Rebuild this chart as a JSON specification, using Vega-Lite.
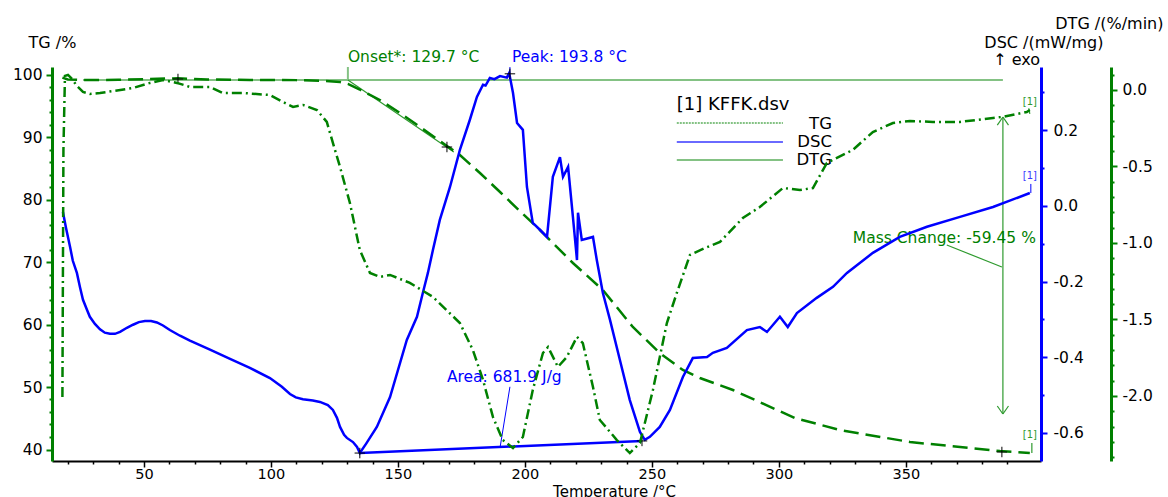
{
  "$schema": "https://vega.github.io/schema/vega-lite/v6.json",
  "width": 989,
  "height": 394,
  "autosize": "none",
  "padding": {"left": 52, "top": 67, "right": 127, "bottom": 36},
  "background": "white",
  "config": {
    "view": {"stroke": null},
    "font": "DejaVu Sans",
    "text": {"font": "DejaVu Sans"},
    "axis": {"grid": false, "labelFont": "DejaVu Sans", "titleFont": "DejaVu Sans", "labelFontSize": 15.5, "titleFontSize": 16, "titleFontWeight": "normal", "labelColor": "#000", "titleColor": "#000", "labelFlush": false, "labelOverlap": false}
  },
  "encoding": {
    "x": {"field": "T", "type": "quantitative", "scale": {"domain": [13.8, 403.2], "nice": false, "zero": false},
      "axis": {"title": "Temperature /°C", "values": [20,30,40,50,60,70,80,90,100,110,120,130,140,150,160,170,180,190,200,210,220,230,240,250,260,270,280,290,300,310,320,330,340,350,360,370,380,390],
        "labelExpr": "datum.value % 50 === 0 ? datum.label : ''",
        "tickSize": {"condition": {"test": "datum.value % 50 === 0", "value": 6}, "value": 3},
        "domainColor": "#000", "domainWidth": 2, "tickColor": "#000", "tickWidth": 1.5, "labelPadding": 0, "labelFontSize": 14.5,
        "titleX": 562, "titleY": 35, "titleBaseline": "alphabetic", "titleAlign": "center", "titleFontSize": 15}}
  },
  "layer": [
    {
      "encoding": {"y": {"field": "v", "type": "quantitative", "scale": {"domain": [38.16, 101.2], "nice": false, "zero": false},
        "axis": {"orient": "left", "title": "TG /%", "values": [40,42,44,46,48,50,52,54,56,58,60,62,64,66,68,70,72,74,76,78,80,82,84,86,88,90,92,94,96,98,100],
          "labelExpr": "datum.value % 10 === 0 ? datum.label : ''",
          "tickSize": {"condition": {"test": "datum.value % 10 === 0", "value": 6}, "value": 3},
          "domainColor": "#008000", "domainWidth": 3, "tickColor": "#008000", "tickWidth": 2, "labelPadding": 4,
          "titleAngle": 0, "titleX": -24, "titleY": -25, "titleAlign": "left", "titleBaseline": "middle"}}},
      "layer": [
        {"data": {"values": [
          {"T":26.0,"v":99.12,"T2":388.2,"v2":99.12},
          {"T":130.3,"v":99.12,"T2":130.3,"v2":101.2},
          {"T":259.8,"v":86.32,"T2":301.6,"v2":86.32}]},
          "mark": {"type": "rule", "color": "#84c284", "strokeWidth": 2},
          "encoding": {"x2": {"field": "T2"}, "y2": {"field": "v2"}}},
        {"data": {"values": [
          {"T":259.8,"v":92.24,"T2":301.6,"v2":92.24}]},
          "mark": {"type": "rule", "color": "#84c284", "strokeWidth": 2, "strokeDash": [2, 1]},
          "encoding": {"x2": {"field": "T2"}, "y2": {"field": "v2"}}},
        {"data": {"values": [
          {"T":130.3,"v":99.12,"T2":172.0,"v2":87.6},
          {"T":388.2,"v":93.2,"T2":388.2,"v2":45.68},
          {"T":386.0,"v":91.9,"T2":388.2,"v2":93.2},
          {"T":388.2,"v":93.2,"T2":390.4,"v2":91.9},
          {"T":386.0,"v":46.96,"T2":388.2,"v2":45.68},
          {"T":388.2,"v":45.68,"T2":390.4,"v2":46.96},
          {"T":366.1,"v":72.72,"T2":387.8,"v2":69.2},
          {"T":399.6,"v":41.04,"T2":399.6,"v2":39.44},
          {"T":398.4,"v":94.6,"T2":398.8,"v2":93.7}]},
          "mark": {"type": "rule", "color": "#2e9a2e", "strokeWidth": 1.2},
          "encoding": {"x2": {"field": "T2"}, "y2": {"field": "v2"}}},
        {"data": {"values": [
          {"T":259.8,"v":89.2,"T2":301.6,"v2":89.2}]},
          "mark": {"type": "rule", "color": "#6a6aff", "strokeWidth": 2},
          "encoding": {"x2": {"field": "T2"}, "y2": {"field": "v2"}}},
        {"data": {"values": [
          {"T":17.9,"v":99.5},{"T":20.0,"v":99.2},{"T":26.0,"v":99.12},{"T":40.0,"v":99.15},{"T":52.4,"v":99.28},{"T":63.4,"v":99.4},{"T":75.0,"v":99.2},{"T":91.7,"v":99.12},{"T":110.0,"v":99.1},{"T":120.0,"v":99.0},{"T":127.2,"v":98.8},{"T":130.3,"v":98.5},{"T":135.0,"v":97.6},{"T":142.9,"v":95.92},{"T":150.8,"v":93.84},{"T":158.7,"v":91.6},{"T":169.3,"v":88.56},{"T":174.4,"v":87.12},{"T":182.3,"v":84.24},{"T":190.2,"v":81.2},{"T":198.0,"v":78.16},{"T":205.9,"v":75.12},{"T":218.9,"v":69.84},{"T":230.7,"v":65.52},{"T":242.5,"v":59.6},{"T":253.1,"v":55.44},{"T":262.2,"v":52.72},{"T":268.9,"v":51.44},{"T":281.9,"v":49.52},{"T":306.3,"v":45.04},{"T":324.0,"v":43.12},{"T":351.6,"v":41.2},{"T":375.2,"v":40.24},{"T":387.0,"v":39.76},{"T":398.8,"v":39.44}]},
          "mark": {"type": "line", "color": "#008000", "strokeWidth": 2.5, "strokeDash": [15, 7]},
          "encoding": {}},
        {"data": {"values": [
          {"T":130.3,"v":102.8,"label":"Onset*: 129.7 °C"},
          {"T":329.1,"v":73.84,"label":"Mass Change: -59.45 %"}]},
          "mark": {"type": "text", "color": "#008000", "fontSize": 15.5, "align": "left", "baseline": "middle"},
          "encoding": {"text": {"field": "label"}}},
        {"data": {"values": [
          {"T":398.8,"v":95.6,"label":"[1]"},
          {"T":398.8,"v":42.32,"label":"[1]"}]},
          "mark": {"type": "text", "color": "#2e9a2e", "fontSize": 10, "align": "center", "baseline": "middle"},
          "encoding": {"text": {"field": "label"}}},
        {"data": {"values": [
          {"T":259.8,"v":95.12,"label":"[1] KFFK.dsv"}]},
          "mark": {"type": "text", "color": "#000", "fontSize": 18, "align": "left", "baseline": "middle"},
          "encoding": {"text": {"field": "label"}}},
        {"data": {"values": [
          {"T":320.9,"v":92.08,"label":"TG"},
          {"T":320.9,"v":89.2,"label":"DSC"},
          {"T":320.9,"v":86.32,"label":"DTG"}]},
          "mark": {"type": "text", "color": "#000", "fontSize": 16.5, "align": "right", "baseline": "middle"},
          "encoding": {"text": {"field": "label"}}},
        {"data": {"values": [
          {"T":402.8,"v":102.32,"label":"↑ exo"}]},
          "mark": {"type": "text", "color": "#000", "fontSize": 16, "align": "right", "baseline": "middle"},
          "encoding": {"text": {"field": "label"}}},
        {"data": {"values": [
          {"T":63.4,"v":99.28},{"T":169.3,"v":88.4},{"T":387.8,"v":39.6}]},
          "mark": {"type": "point", "shape": "M-1,0L1,0M0,-1L0,1", "size": 110, "stroke": "#000", "strokeWidth": 1, "filled": false, "opacity": 1},
          "encoding": {}}
      ]
    },
    {
      "encoding": {"y": {"field": "v", "type": "quantitative", "scale": {"domain": [-0.674, 0.367], "nice": false, "zero": false},
        "axis": {"orient": "right", "title": "DSC /(mW/mg)", "values": [-0.6,-0.5,-0.4,-0.3,-0.2,-0.1,0,0.1,0.2,0.3],
          "labelExpr": "abs(round(datum.value*10)) % 2 === 0 ? replace(format(datum.value, '.1f'), '−', '-') : ''",
          "tickSize": {"condition": {"test": "abs(round(datum.value*10)) % 2 === 0", "value": 6}, "value": 3},
          "domainColor": "#0000ff", "domainWidth": 3, "tickColor": "#0000ff", "tickWidth": 2, "labelPadding": 6,
          "titleAngle": 0, "titleX": 62, "titleY": -25, "titleAlign": "right", "titleBaseline": "middle"}}},
      "layer": [
        {"data": {"values": [
          {"T":135.0,"v":-0.653,"T2":246.1,"v2":-0.621}]},
          "mark": {"type": "rule", "color": "#0000ff", "strokeWidth": 2.5},
          "encoding": {"x2": {"field": "T2"}, "y2": {"field": "v2"}}},
        {"data": {"values": [
          {"T":194.1,"v":0.351,"T2":194.1,"v2":0.367},
          {"T":190.2,"v":-0.639,"T2":194.1,"v2":-0.478},
          {"T":399.2,"v":0.034,"T2":399.2,"v2":0.058}]},
          "mark": {"type": "rule", "color": "#0000ff", "strokeWidth": 1},
          "encoding": {"x2": {"field": "T2"}, "y2": {"field": "v2"}}},
        {"data": {"values": [
          {"T":18.1,"v":-0.016},{"T":19.3,"v":-0.058},{"T":20.9,"v":-0.108},{"T":22.0,"v":-0.145},{"T":23.6,"v":-0.177},{"T":24.8,"v":-0.214},{"T":26.0,"v":-0.248},{"T":27.6,"v":-0.275},{"T":28.7,"v":-0.293},{"T":30.7,"v":-0.312},{"T":32.7,"v":-0.326},{"T":34.6,"v":-0.335},{"T":36.6,"v":-0.338},{"T":38.6,"v":-0.338},{"T":40.6,"v":-0.333},{"T":43.3,"v":-0.322},{"T":45.7,"v":-0.314},{"T":48.0,"v":-0.307},{"T":50.4,"v":-0.304},{"T":52.8,"v":-0.304},{"T":55.1,"v":-0.308},{"T":57.5,"v":-0.316},{"T":60.2,"v":-0.328},{"T":64.2,"v":-0.343},{"T":68.1,"v":-0.356},{"T":76.0,"v":-0.38},{"T":83.9,"v":-0.404},{"T":91.7,"v":-0.428},{"T":99.6,"v":-0.455},{"T":104.3,"v":-0.478},{"T":107.5,"v":-0.497},{"T":109.8,"v":-0.506},{"T":112.6,"v":-0.511},{"T":116.5,"v":-0.514},{"T":119.3,"v":-0.518},{"T":122.4,"v":-0.526},{"T":124.4,"v":-0.539},{"T":126.0,"v":-0.56},{"T":127.2,"v":-0.584},{"T":128.8,"v":-0.605},{"T":129.9,"v":-0.613},{"T":132.3,"v":-0.624},{"T":133.9,"v":-0.637},{"T":135.0,"v":-0.653},{"T":137.5,"v":-0.628},{"T":141.7,"v":-0.584},{"T":146.9,"v":-0.505},{"T":153.5,"v":-0.354},{"T":157.5,"v":-0.293},{"T":159.8,"v":-0.23},{"T":161.8,"v":-0.177},{"T":163.8,"v":-0.116},{"T":166.5,"v":-0.037},{"T":170.5,"v":0.05},{"T":174.4,"v":0.148},{"T":178.3,"v":0.227},{"T":181.1,"v":0.288},{"T":183.5,"v":0.32},{"T":184.5,"v":0.318},{"T":186.2,"v":0.338},{"T":188.0,"v":0.335},{"T":190.2,"v":0.343},{"T":192.9,"v":0.339},{"T":193.8,"v":0.351},{"T":195.3,"v":0.299},{"T":196.9,"v":0.219},{"T":199.2,"v":0.201},{"T":200.8,"v":0.05},{"T":203.1,"v":-0.045},{"T":205.9,"v":-0.063},{"T":208.7,"v":-0.082},{"T":211.0,"v":0.077},{"T":213.8,"v":0.129},{"T":215.0,"v":0.077},{"T":217.0,"v":0.103},{"T":218.9,"v":-0.029},{"T":220.5,"v":-0.143},{"T":220.9,"v":-0.018},{"T":222.4,"v":-0.09},{"T":226.8,"v":-0.082},{"T":228.3,"v":-0.143},{"T":230.7,"v":-0.23},{"T":233.5,"v":-0.301},{"T":237.4,"v":-0.407},{"T":241.3,"v":-0.513},{"T":245.3,"v":-0.597},{"T":247.2,"v":-0.618},{"T":249.2,"v":-0.61},{"T":253.1,"v":-0.584},{"T":257.1,"v":-0.539},{"T":262.2,"v":-0.452},{"T":266.1,"v":-0.402},{"T":271.7,"v":-0.399},{"T":274.0,"v":-0.388},{"T":279.5,"v":-0.375},{"T":287.4,"v":-0.328},{"T":292.5,"v":-0.32},{"T":295.3,"v":-0.333},{"T":300.4,"v":-0.293},{"T":303.5,"v":-0.32},{"T":307.1,"v":-0.283},{"T":314.9,"v":-0.243},{"T":321.3,"v":-0.214},{"T":326.8,"v":-0.177},{"T":337.0,"v":-0.124},{"T":347.6,"v":-0.082},{"T":358.3,"v":-0.055},{"T":371.3,"v":-0.029},{"T":384.3,"v":-0.003},{"T":398.8,"v":0.034}]},
          "mark": {"type": "line", "color": "#0000ff", "strokeWidth": 2.5},
          "encoding": {}},
        {"data": {"values": [
          {"T":194.9,"v":0.394,"label":"Peak: 193.8 °C"},
          {"T":169.3,"v":-0.452,"label":"Area: 681.9 J/g"}]},
          "mark": {"type": "text", "color": "#0000ff", "fontSize": 15.5, "align": "left", "baseline": "middle"},
          "encoding": {"text": {"field": "label"}}},
        {"data": {"values": [
          {"T":398.8,"v":0.079,"label":"[1]"}]},
          "mark": {"type": "text", "color": "#3a3aff", "fontSize": 10, "align": "center", "baseline": "middle"},
          "encoding": {"text": {"field": "label"}}},
        {"data": {"values": [
          {"T":194.1,"v":0.349},{"T":135.0,"v":-0.653},{"T":246.1,"v":-0.621}]},
          "mark": {"type": "point", "shape": "M-1,0L1,0M0,-1L0,1", "size": 110, "stroke": "#000", "strokeWidth": 1, "filled": false, "opacity": 1},
          "encoding": {}}
      ]
    },
    {
      "encoding": {"y": {"field": "v", "type": "quantitative", "scale": {"domain": [-2.425, 0.15], "nice": false, "zero": false},
        "axis": {"orient": "right", "offset": 70, "title": "DTG /(%/min)", "values": [-2.4,-2.3,-2.2,-2.1,-2.0,-1.9,-1.8,-1.7,-1.6,-1.5,-1.4,-1.3,-1.2,-1.1,-1.0,-0.9,-0.8,-0.7,-0.6,-0.5,-0.4,-0.3,-0.2,-0.1,0,0.1],
          "labelExpr": "abs(round(datum.value*10)) % 5 === 0 ? replace(format(datum.value, '.1f'), '−', '-') : ''",
          "tickSize": {"condition": {"test": "abs(round(datum.value*10)) % 5 === 0", "value": 6}, "value": 3},
          "domainColor": "#008000", "domainWidth": 3, "tickColor": "#008000", "tickWidth": 2, "labelPadding": 5,
          "titleAngle": 0, "titleX": 52, "titleY": -44, "titleAlign": "right", "titleBaseline": "middle"}}},
      "layer": [
        {"data": {"values": [
          {"T":17.9,"v":-2.007},{"T":18.3,"v":-0.392},{"T":18.9,"v":0.092},{"T":20.1,"v":0.098},{"T":21.7,"v":0.072},{"T":23.6,"v":0.026},{"T":26.0,"v":-0.013},{"T":28.7,"v":-0.026},{"T":32.7,"v":-0.02},{"T":45.7,"v":0.013},{"T":52.4,"v":0.046},{"T":57.5,"v":0.065},{"T":63.0,"v":0.046},{"T":68.1,"v":0.02},{"T":76.0,"v":0.02},{"T":81.1,"v":-0.02},{"T":89.0,"v":-0.02},{"T":99.6,"v":-0.033},{"T":104.7,"v":-0.078},{"T":108.7,"v":-0.111},{"T":112.6,"v":-0.098},{"T":118.1,"v":-0.131},{"T":122.0,"v":-0.209},{"T":124.4,"v":-0.346},{"T":127.2,"v":-0.503},{"T":131.1,"v":-0.739},{"T":135.0,"v":-1.046},{"T":139.0,"v":-1.196},{"T":142.9,"v":-1.222},{"T":146.9,"v":-1.209},{"T":154.7,"v":-1.261},{"T":163.8,"v":-1.353},{"T":174.4,"v":-1.523},{"T":179.5,"v":-1.699},{"T":183.5,"v":-1.895},{"T":187.4,"v":-2.137},{"T":191.3,"v":-2.288},{"T":195.3,"v":-2.34},{"T":199.2,"v":-2.268},{"T":203.1,"v":-1.961},{"T":207.1,"v":-1.719},{"T":209.1,"v":-1.68},{"T":213.0,"v":-1.81},{"T":216.5,"v":-1.745},{"T":220.5,"v":-1.614},{"T":222.8,"v":-1.654},{"T":226.8,"v":-1.941},{"T":229.5,"v":-2.157},{"T":236.2,"v":-2.288},{"T":241.3,"v":-2.373},{"T":245.3,"v":-2.307},{"T":250.4,"v":-1.961},{"T":255.9,"v":-1.523},{"T":259.8,"v":-1.327},{"T":265.0,"v":-1.078},{"T":270.9,"v":-1.033},{"T":276.8,"v":-0.993},{"T":285.8,"v":-0.837},{"T":292.5,"v":-0.765},{"T":301.6,"v":-0.641},{"T":308.3,"v":-0.654},{"T":313.4,"v":-0.641},{"T":318.9,"v":-0.477},{"T":329.1,"v":-0.392},{"T":337.0,"v":-0.275},{"T":344.9,"v":-0.216},{"T":351.6,"v":-0.203},{"T":360.6,"v":-0.209},{"T":371.3,"v":-0.209},{"T":384.3,"v":-0.183},{"T":388.2,"v":-0.176},{"T":397.6,"v":-0.144},{"T":398.8,"v":-0.131}]},
          "mark": {"type": "line", "color": "#008000", "strokeWidth": 2.5, "strokeDash": [10, 4, 2, 4]},
          "encoding": {}}
      ]
    }
  ],
  "resolve": {"scale": {"y": "independent"}, "axis": {"y": "independent"}}
}
